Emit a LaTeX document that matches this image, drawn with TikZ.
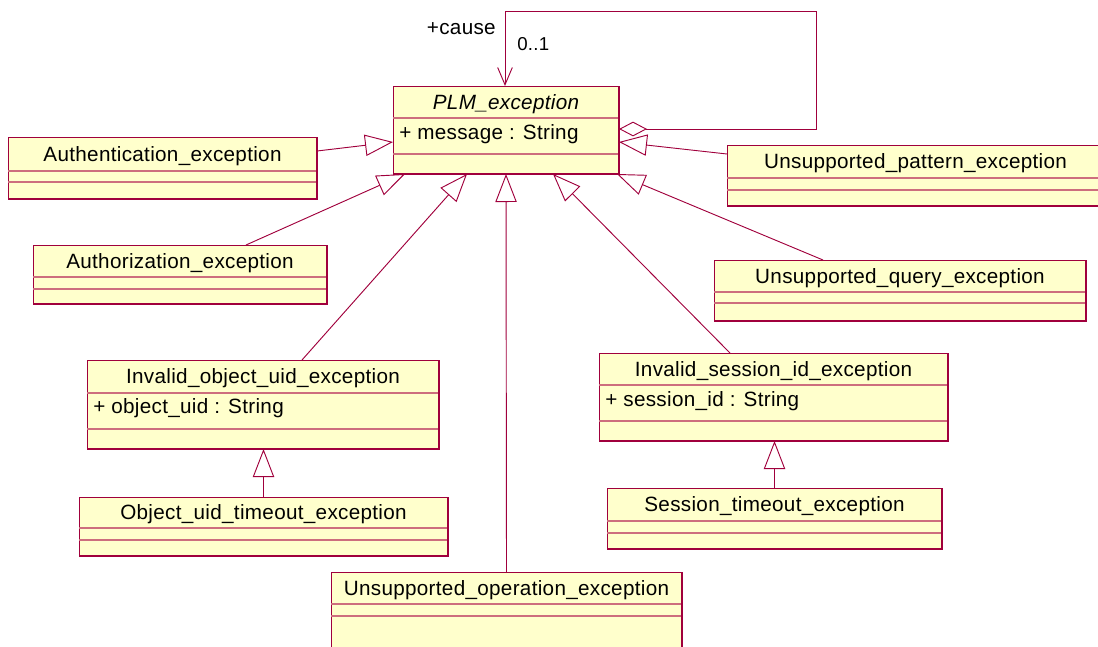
\documentclass[tikz,border=0pt]{standalone}
\usepackage{fontspec}
\setmainfont{Liberation Sans}
\usetikzlibrary{arrows.meta, positioning, calc, fit}
\definecolor{roseRed}{RGB}{160, 0, 60}
\definecolor{roseLine}{RGB}{205, 110, 125}
\definecolor{roseFill}{RGB}{255, 255, 204}
\newfontfamily\umlfont[LetterSpace=1.5]{Liberation Sans}

\tikzset{
  classbox/.style={draw=roseRed, fill=roseFill, line width=0.6pt, inner sep=0pt, outer sep=0pt},
  classshadow/.style={draw=roseRed, line width=1.3pt},
  divider/.style={draw=roseLine, line width=0.9pt},
  classname/.style={font=\umlfont\fontsize{15.5}{18}\selectfont, inner sep=0pt},
  attrib/.style={font=\umlfont\fontsize{15.5}{18}\selectfont, inner sep=0pt, anchor=west},
  rolelabel/.style={font=\umlfont\fontsize{14}{16}\selectfont, inner sep=0pt},
  generalize/.style={draw=roseRed, line width=0.7pt, -{Triangle[open, length=21pt, width=16pt]}},
  selfassoc/.style={draw=roseRed, line width=0.7pt, {Diamond[open, length=21pt, width=11pt]}-{Straight Barb[length=13pt, width=11pt]}}
}

\begin{document}
\begin{tikzpicture}[x=0.75pt, y=-0.75pt]
    \clip (0,0) rectangle (1098,646);

    % Class boxes: name / left / top / right / bottom / first divider / second divider / title
    \foreach \nm/\xa/\ya/\xb/\yb/\da/\db/\txt in {
        PLM/393/86/619/174/118/154/{\itshape PLM\_exception},
        authn/8/137/317/199/171/182/{Authentication\_exception},
        authz/33/245/327/304/277/289/{Authorization\_exception},
        pattern/727/145/1104/206/178/190/{Unsupported\_pattern\_exception},
        query/714/260/1086/321/292/303/{Unsupported\_query\_exception},
        invobj/87/360/439/449/393/429/{Invalid\_object\_uid\_exception},
        objto/79/497/448/556/528/540/{Object\_uid\_timeout\_exception},
        invsess/599/353/948/441/385/421/{Invalid\_session\_id\_exception},
        sessto/607/488/942/549/521/533/{Session\_timeout\_exception},
        oper/331/572/682/660/604/616/{Unsupported\_operation\_exception}} {
        \node[classbox, fit={(\xa,\ya) (\xb,\yb)}] (\nm) {};
        \draw[divider] (\nm.west |- 0,\da) -- (\nm.east |- 0,\da);
        \draw[divider] (\nm.west |- 0,\db) -- (\nm.east |- 0,\db);
        \draw[classshadow] (\nm.north east) -- (\nm.south east) -- (\nm.south west);
        \node[classname] (\nm-title) at ($(\nm.north)!0.5!(\nm.north |- 0,\da)+(0,2)$) {\txt};
    }

    % Attributes
    \node[attrib] (PLM-attr) at ($(PLM.north west)+(6,48)$) {+ message : String};
    \node[attrib] (invobj-attr) at ($(invobj.north west)+(6,48)$) {+ object\_uid : String};
    \node[attrib] (invsess-attr) at ($(invsess.north west)+(6,48)$) {+ session\_id : String};

    % Self association (cause)
    \coordinate (loopR) at (816,11);
    \draw[selfassoc] ($(PLM.north east)+(0,43)$) -| (loopR) -| ($(PLM.north west)+(112,0)$);
    \node[rolelabel, anchor=east, font=\umlfont\fontsize{15.5}{18}\selectfont] (cause) at (496,29) {+cause};
    \node[rolelabel, anchor=west] (mult) at (517,44) {0..1};

    % Generalizations to PLM_exception
    \draw[generalize] ($(authn.north east)+(0,14)$) -- ($(PLM.north west)+(0,56)$);
    \draw[generalize] ($(authz.north west)+(213,0)$) -- ($(PLM.south west)+(12,0)$);
    \draw[generalize] ($(invobj.north west)+(215,0)$) -- ($(PLM.south west)+(74,0)$);
    \draw[generalize] (oper.north) -- (PLM.south);
    \draw[generalize] ($(invsess.north west)+(131,0)$) -- ($(PLM.south west)+(160,0)$);
    \draw[generalize] ($(query.north west)+(109,0)$) -- ($(PLM.south east)+(-2,0)$);
    \draw[generalize] ($(pattern.north west)+(0,9)$) -- ($(PLM.north east)+(0,56)$);

    % Timeout subclasses
    \draw[generalize] (objto.north) -- (objto.north |- invobj.south);
    \draw[generalize] (sessto.north) -- (sessto.north |- invsess.south);
\end{tikzpicture}
\end{document}
